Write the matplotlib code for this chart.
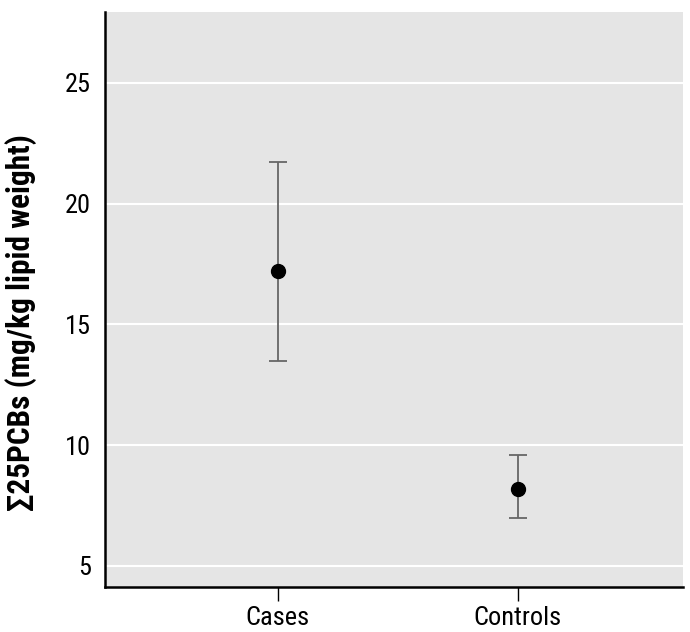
import matplotlib
matplotlib.use("Agg")
import matplotlib.pyplot as plt
import numpy as np

# group means with lower / upper error bar limits
groups = ["Cases", "Controls"]
means = [17.2, 8.2]
lower = [13.5, 7.0]
upper = [21.7, 9.6]
yticks = [5, 10, 15, 20, 25]

plt.rcParams['font.family'] = ['Roboto Condensed', 'DejaVu Sans']

fig = plt.figure(figsize=(6.9, 6.32), dpi=100)
ax = fig.add_axes([0.152, 0.0712, 0.838, 0.91])
ax.set_facecolor('#e5e5e5')

x = np.arange(len(groups))
m = np.array(means)
err = [m - np.array(lower), np.array(upper) - m]
ax.errorbar(x, m, yerr=err, fmt='none', ecolor='#666666', elinewidth=1.3,
            capsize=6.5, capthick=1.3, zorder=3)
ax.plot(x, m, 'o', color='black', markersize=10, zorder=4)

ax.set_xlim(-0.72, 1.69)
ax.set_ylim(4.13, 27.93)
ax.set_yticks(yticks)
ax.set_xticks(x)
ax.set_xticklabels(groups)
ax.yaxis.grid(True, color='white', linewidth=1.5)
ax.set_axisbelow(True)

for s in ['top', 'right']:
    ax.spines[s].set_visible(False)
for s in ['left', 'bottom']:
    ax.spines[s].set_linewidth(1.8)
    ax.spines[s].set_color('black')

ax.tick_params(axis='y', length=0, labelsize=19, pad=10)
ax.tick_params(axis='x', length=10, width=1, labelsize=19, pad=4)

ax.set_ylabel('\u221125PCBs (mg/kg lipid weight)', fontsize=22.5, fontweight='bold')
ax.yaxis.set_label_coords(-0.118, 0.46)

fig.savefig('out.png', dpi=100)
